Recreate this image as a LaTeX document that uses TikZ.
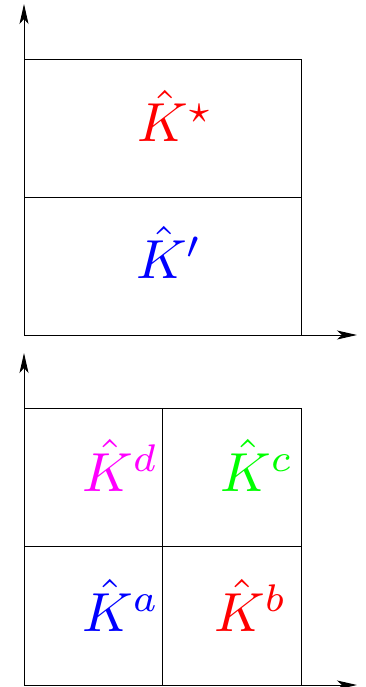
\documentclass[tikz,border=0pt]{standalone}
\usepackage{graphicx}
\usetikzlibrary{arrows.meta}
\definecolor{mymag}{RGB}{255,0,255}
\definecolor{mygreen}{RGB}{0,255,0}
\definecolor{myred}{RGB}{255,0,0}
\definecolor{myblue}{RGB}{0,0,255}
\tikzset{
  axis/.style={line width=1pt, draw=black, -{Stealth[length=20pt,width=9pt,inset=5pt]}},
  box/.style={line width=0.9pt, draw=black},
  lbl/.style={anchor=base west, inner sep=0pt},
}
\newcommand{\mylabel}[1]{\scalebox{5.5}{$#1$}}
\begin{document}
\begin{tikzpicture}[x=1pt,y=-1pt]
\useasboundingbox (0,0) rectangle (366,687);
% top panel
\coordinate (o1) at (24,335);
\draw[axis] (o1) -- (24,4);
\draw[axis] (o1) -- (357,335);
\draw[box] (24,59) rectangle (301,335);
\draw[box] (24,197) -- (301,197);
\node[lbl, text=myred] (kstar) at (137,142) {\mylabel{\hat K^\star}};
\node[lbl, text=myblue] (kprime) at (136,278) {\mylabel{\hat K'}};
% bottom panel
\coordinate (o2) at (24,685);
\draw[axis] (o2) -- (24,353);
\draw[axis] (o2) -- (357,685);
\draw[box] (24,408) rectangle (301,685);
\draw[box] (24,546) -- (301,546);
\draw[box] (162,408) -- (162,685);
\node[lbl, text=mymag] (kd) at (82,491) {\mylabel{\hat K^d}};
\node[lbl, text=mygreen] (kc) at (220,491) {\mylabel{\hat K^c}};
\node[lbl, text=myblue] (ka) at (82,631) {\mylabel{\hat K^a}};
\node[lbl, text=myred] (kb) at (214,631) {\mylabel{\hat K^b}};
\end{tikzpicture}
\end{document}
